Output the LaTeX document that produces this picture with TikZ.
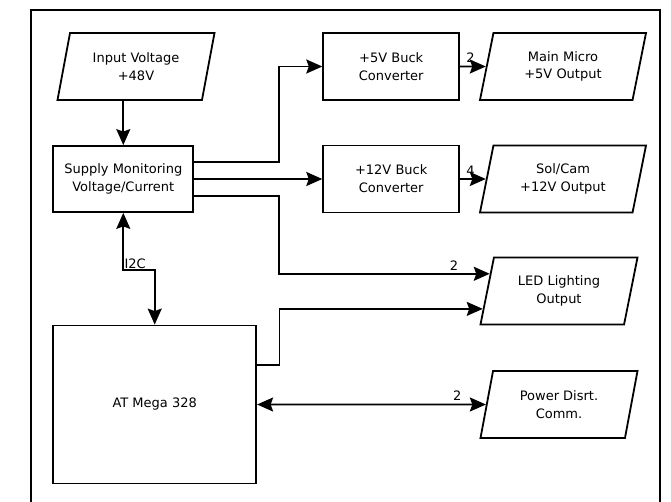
\documentclass[tikz,border=0pt]{standalone}
\usepackage{fontspec}
\setmainfont{DejaVu Sans}
\usetikzlibrary{positioning,shapes.geometric,arrows.meta,calc}

\begin{document}
\begin{tikzpicture}[x=1pt, y=-1pt,
    txt/.style={font=\fontsize{13}{17.7}\selectfont},
    box/.style={txt, draw, rectangle, line width=1.8pt, align=center},
    io/.style={txt, draw, trapezium, trapezium left angle=70, trapezium right angle=110,
        trapezium stretches body, line width=1.8pt, align=center,
        minimum width=157pt, minimum height=67pt},
    wire/.style={line width=1.8pt, -{Stealth[length=16pt, width=14pt, inset=2.5pt]}},
    both/.style={line width=1.8pt, {Stealth[length=16pt, width=14pt, inset=2.5pt]}-{Stealth[length=16pt, width=14pt, inset=2.5pt]}},
    count/.style={txt, inner sep=1pt}]
    \useasboundingbox (0,0) rectangle (671,502);
    \draw[line width=1.8pt] (31,520) -- (31,10) -- (660,10) -- (660,520);

    \node[io] (inp) at (136,66.5) {Input Voltage\\+48V};
    \node[box, minimum width=140pt, minimum height=66pt] (smon) at (123.3,179) {Supply Monitoring\\Voltage/Current};
    \node[box, minimum width=136pt, minimum height=67pt] (buck5) at (391.2,66.5) {+5V Buck\\Converter};
    \node[box, minimum width=136pt, minimum height=67pt] (buck12) at (391.2,179) {+12V Buck\\Converter};
    \node[io, minimum width=166pt] (main) at (563,66.5) {Main Micro\\+5V Output};
    \node[io, minimum width=166pt] (solcam) at (563,179) {Sol/Cam\\+12V Output};
    \node[io] (led) at (559,291) {LED Lighting\\Output};
    \node[io] (pdc) at (559,404.5) {Power Disrt.\\Comm.};
    \node[box, minimum width=203pt, minimum height=158pt] (mega) at (154.7,404.5) {AT Mega 328};

    \draw[wire] (inp.south -| smon.north) -- (smon.north);
    \draw[wire] ([yshift=17pt]smon.east) -- ++(85,0) |- (buck5);
    \draw[wire] (smon) -- (buck12);
    \draw[wire] ([yshift=-17pt]smon.east) -- ++(85,0)
        |- node[count, above=1pt, pos=0.915] (n3) {2} ($(led.top left corner)!0.25!(led.bottom left corner)$);
    \draw[wire] ([yshift=39.5pt]mega.east) -- ++(22.3,0)
        |- ($(led.top left corner)!0.76!(led.bottom left corner)$);
    \draw[wire] (buck5) -- node[count, above=2pt, pos=0.4] (n1) {2} (main);
    \draw[wire] (buck12) -- node[count, above=2pt, pos=0.4] (n2) {4} (solcam);
    \draw[both] (mega) -- node[count, above=2pt, pos=0.875] (n4) {2} (pdc);
    \draw[both] (smon.south) -- ++(0,57) coordinate (i2c) -| (mega.north);
    \node[count, anchor=south west] (bus) at (i2c) {I2C};
\end{tikzpicture}
\end{document}
